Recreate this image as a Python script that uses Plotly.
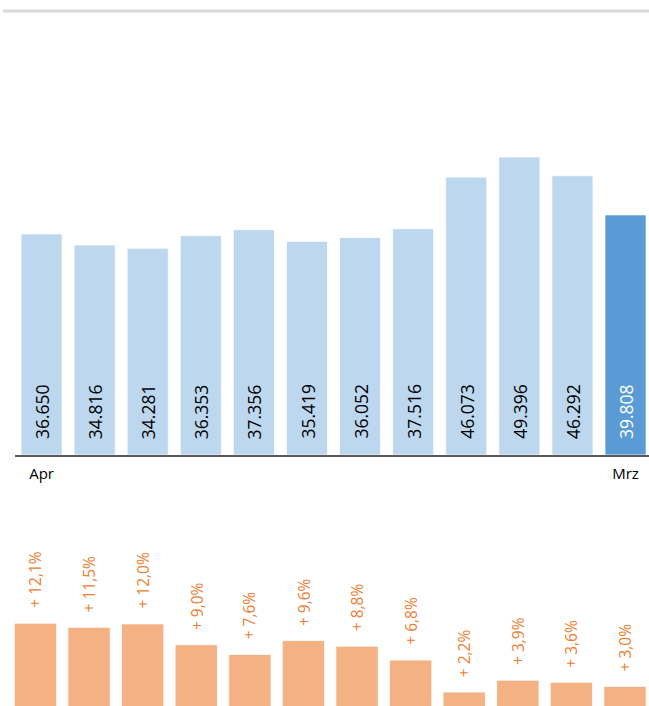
import plotly.graph_objects as go

months = ['Apr', 'Mai', 'Jun', 'Jul', 'Aug', 'Sep', 'Okt', 'Nov', 'Dez', 'Jan', 'Feb', 'Mrz']
values = [36650, 34816, 34281, 36353, 37356, 35419, 36052, 37516, 46073, 49396, 46292, 39808]
value_labels = ['36.650', '34.816', '34.281', '36.353', '37.356', '35.419',
                '36.052', '37.516', '46.073', '49.396', '46.292', '39.808']
growth = [12.1, 11.5, 12.0, 9.0, 7.6, 9.6, 8.8, 6.8, 2.2, 3.9, 3.6, 3.0]
growth_labels = ['+ 12,1%', '+ 11,5%', '+ 12,0%', '+ 9,0%', '+ 7,6%', '+ 9,6%',
                 '+ 8,8%', '+ 6,8%', '+ 2,2%', '+ 3,9%', '+ 3,6%', '+ 3,0%']
tick_labels = ['Apr', 'Mrz']

W, H = 649, 706
FONT = 'Open Sans'

light_blue = '#BDD7EE'
dark_blue = '#5B9BD5'
orange_bar = '#F4B183'
orange_txt = '#ED7D31'

bar_colors = [light_blue] * (len(months) - 1) + [dark_blue]
text_colors = ['#000000'] * (len(months) - 1) + ['#FFFFFF']

fig = go.Figure()

fig.add_trace(go.Bar(
    x=months, y=values, marker=dict(color=bar_colors, line=dict(color='white', width=0.8)),
    xaxis='x', yaxis='y', width=0.775, hoverinfo='skip', showlegend=False,
))
fig.add_trace(go.Bar(
    x=months, y=growth, marker=dict(color=orange_bar, line=dict(color='white', width=0.8)),
    xaxis='x2', yaxis='y2', width=0.79, hoverinfo='skip', showlegend=False,
))

annotations = []
for m, lab, c in zip(months, value_labels, text_colors):
    annotations.append(dict(
        x=m, y=0, xref='x', yref='y', text=lab, textangle=-90, showarrow=False,
        xanchor='center', yanchor='bottom', yshift=14,
        font=dict(family=FONT, size=17.5, color=c),
    ))
for m, g, lab in zip(months, growth, growth_labels):
    annotations.append(dict(
        x=m, y=g, xref='x2', yref='y2', text=lab, textangle=-90, showarrow=False,
        xanchor='center', yanchor='bottom', yshift=13,
        font=dict(family=FONT, size=15.5, color=orange_txt),
    ))

# upper chart geometry (pixel positions)
up_bottom_px = 455
up_scale = 0.006032
up_top_val = up_bottom_px / up_scale
up_left_px = 15
up_step = 53.09
up_right_val = 11.5 - (up_left_px + 12 * up_step - W) / up_step

low_baseline_px = 707.3
low_scale = 6.95
low_top_px = 520
low_left_px = 8.7
low_step = 53.59
low_right_val = 11.5 - (low_left_px + 12 * low_step - W) / low_step

fig.update_layout(
    width=W, height=H,
    margin=dict(l=0, r=0, t=0, b=0),
    paper_bgcolor='white', plot_bgcolor='white',
    font=dict(family=FONT, color='#000000'),
    bargap=0,
    xaxis=dict(
        domain=[up_left_px / W, 1], anchor='y',
        type='category', range=[-0.5, up_right_val],
        tickvals=[months[0], months[-1]], ticktext=tick_labels,
        showline=True, linecolor='#595959', linewidth=2,
        ticks='', showgrid=False, zeroline=False, ticklabelstandoff=4,
        tickfont=dict(family=FONT, size=15, color='#000000'),
    ),
    yaxis=dict(
        domain=[(H - up_bottom_px) / H, 1], anchor='x',
        range=[0, up_top_val], visible=False, showgrid=False,
    ),
    xaxis2=dict(
        domain=[low_left_px / W, 1], anchor='y2',
        type='category', range=[-0.5, low_right_val],
        visible=False, showgrid=False,
    ),
    yaxis2=dict(
        domain=[0, (H - low_top_px) / H], anchor='x2',
        range=[(low_baseline_px - H) / low_scale, (low_baseline_px - low_top_px) / low_scale],
        visible=False, showgrid=False,
    ),
    annotations=annotations,
    shapes=[dict(
        type='line', xref='paper', yref='paper',
        x0=3 / W, x1=1, y0=(H - 11) / H, y1=(H - 11) / H,
        line=dict(color='#D9D9D9', width=3),
    )],
)

fig.write_html(
    'out.html',
    config={'displayModeBar': False, 'staticPlot': True},
    post_script="document.body.style.margin='0';document.body.style.overflow='hidden';",
)
